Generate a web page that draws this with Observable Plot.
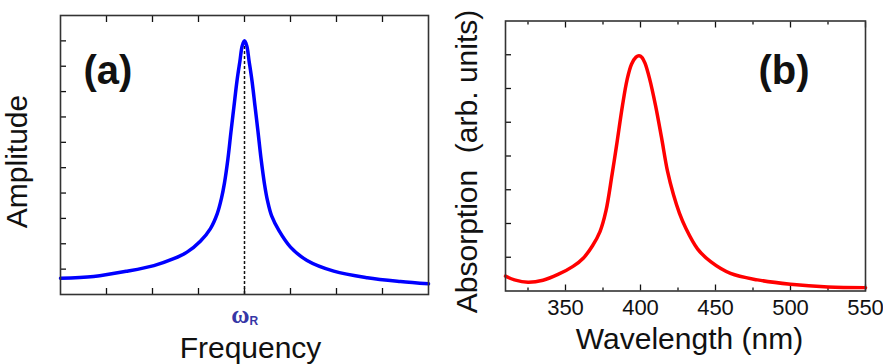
<!DOCTYPE html>
<html>
<head>
<meta charset="utf-8">
<script src="https://cdn.jsdelivr.net/npm/d3@7"></script>
<script src="https://cdn.jsdelivr.net/npm/@observablehq/plot@0.6"></script>
<style>
html, body { margin: 0; padding: 0; background: #fff; }
#wrap { position: relative; width: 883px; height: 364px; overflow: hidden; }
#wrap svg { position: absolute; top: 0; }
</style>
</head>
<body>
<div id="wrap"></div>
<script>
// ---------- Panel (a): driven oscillator amplitude ----------
const freq = [0, 0.72, 1.45, 2.03, 2.46, 2.75, 3.04, 3.26, 3.41, 3.5, 3.565, 3.64, 3.705, 3.77, 3.835, 3.9, 3.95, 4, 4.05, 4.1, 4.165, 4.23, 4.295, 4.36, 4.435, 4.5, 4.59, 4.75, 5, 5.36, 5.94, 6.67, 7.39, 8];
const amplitude = [0.64, 0.71, 0.92, 1.14, 1.41, 1.67, 2.1, 2.6, 3.2, 3.8, 4.4, 5.35, 6.4, 7.4, 8.4, 9.2, 9.8, 10.0, 9.8, 9.2, 8.4, 7.4, 6.4, 5.35, 4.35, 3.7, 3.1, 2.52, 1.87, 1.34, 0.92, 0.66, 0.51, 0.42];
const resonanceFreq = 4;
const freqTicks = [1, 2, 3, 4, 5, 6, 7];
const ampTicks = [1, 2, 3, 4, 5, 6, 7, 8, 9, 10];

// ---------- Panel (b): absorption spectrum ----------
const wavelength = [310, 316, 325, 335, 345, 355, 362, 368, 373, 377, 381, 384, 388, 391, 394, 397, 399, 401, 403, 406, 410, 414, 418, 422, 426, 430, 438, 447, 460, 478, 500, 525, 550];
const absorption = [0.44, 0.33, 0.26, 0.32, 0.49, 0.73, 0.98, 1.34, 1.76, 2.38, 3.44, 4.3, 5.5, 6.25, 6.72, 6.93, 6.97, 6.92, 6.75, 6.3, 5.5, 4.55, 3.55, 2.85, 2.3, 1.88, 1.25, 0.86, 0.52, 0.33, 0.2, 0.12, 0.1];
const wlMajorTicks = [350, 400, 450, 500, 550];
const wlMinorTicks = [325, 375, 425, 475, 525];
const absTicks = [1, 2, 3, 4, 5, 6, 7];

const FONT = "'Liberation Sans', Arial, sans-serif";
const INK = "#111";
const FRAME = "#333";

const leftData = freq.map((f, i) => ({f, a: amplitude[i]}));
const rightData = wavelength.map((w, i) => ({w, v: absorption[i]}));
const peakAmp = d3.max(amplitude);

const left = Plot.plot({
  width: 440, height: 364,
  marginTop: 15, marginBottom: 70, marginLeft: 60, marginRight: 12,
  style: {fontFamily: FONT, color: INK, background: "transparent", overflow: "visible"},
  x: {domain: [0, 8], axis: null},
  y: {domain: [0, 11], axis: null},
  marks: [
    Plot.axisX(freqTicks, {anchor: "bottom", tickSize: -6, fill: "none", label: null, strokeWidth: 1.3}),
    Plot.axisX(freqTicks, {anchor: "top", tickSize: -6, fill: "none", label: null, strokeWidth: 1.3}),
    Plot.axisY(ampTicks, {anchor: "left", tickSize: -6, fill: "none", label: null, strokeWidth: 1.3}),
    Plot.ruleX([resonanceFreq], {x: d => d, y1: 0, y2: peakAmp, stroke: INK, strokeWidth: 1.5, strokeDasharray: "3,2"}),
    Plot.line(leftData, {x: "f", y: "a", stroke: "#0000ff", strokeWidth: 3.5, curve: "catmull-rom"}),
    Plot.frame({stroke: FRAME, strokeWidth: 1.6}),
    Plot.text([resonanceFreq], {x: d => d, frameAnchor: "bottom", text: () => "ω", textAnchor: "end", lineAnchor: "bottom",
      dx: 5, dy: 28, fontSize: 25, fontFamily: "'Liberation Serif', serif", fontWeight: "bold", fill: "#3636a6"}),
    Plot.text([resonanceFreq], {x: d => d, frameAnchor: "bottom", text: () => "R", textAnchor: "start", lineAnchor: "bottom",
      dx: 5, dy: 30.5, fontSize: 12, fontWeight: "bold", fill: "#3636a6"}),
    Plot.text(["Frequency"], {text: d => d, frameAnchor: "bottom", textAnchor: "middle", lineAnchor: "bottom", dx: 6, dy: 63.5, fontSize: 30}),
    Plot.text(["Amplitude"], {text: d => d, frameAnchor: "left", textAnchor: "middle", rotate: -90, lineAnchor: "bottom", dx: -33.3, dy: 6.5, fontSize: 30}),
    Plot.text(["(a)"], {text: d => d, frameAnchor: "top-left", textAnchor: "start", lineAnchor: "bottom", dx: 23, dy: 68, fontSize: 40, fontWeight: "bold"})
  ]
});
left.style.left = "0px";

const right = Plot.plot({
  width: 443, height: 364,
  marginTop: 20.5, marginBottom: 73.5, marginLeft: 65, marginRight: 18,
  style: {fontFamily: FONT, color: INK, background: "transparent", overflow: "visible"},
  x: {domain: [310, 550], axis: null},
  y: {domain: [0, 8], axis: null},
  marks: [
    Plot.axisX(wlMajorTicks, {anchor: "bottom", tickSize: -6, fill: "none", label: null, strokeWidth: 1.3}),
    Plot.axisX(wlMinorTicks, {anchor: "bottom", tickSize: -3, fill: "none", label: null, strokeWidth: 1.3}),
    Plot.axisX(wlMajorTicks, {anchor: "top", tickSize: -6, fill: "none", label: null, strokeWidth: 1.3}),
    Plot.axisX(wlMinorTicks, {anchor: "top", tickSize: -3, fill: "none", label: null, strokeWidth: 1.3}),
    Plot.axisX(wlMajorTicks, {anchor: "bottom", tickSize: 0, tickPadding: 8, fontSize: 22, label: null, tickFormat: d => String(d)}),
    Plot.axisY(absTicks, {anchor: "left", tickSize: -6, fill: "none", label: null, strokeWidth: 1.3}),
    Plot.line(rightData, {x: "w", y: "v", stroke: "#ff0000", strokeWidth: 3.5, curve: "catmull-rom"}),
    Plot.frame({stroke: FRAME, strokeWidth: 1.6}),
    Plot.text(["Wavelength (nm)"], {text: d => d, frameAnchor: "bottom", textAnchor: "middle", lineAnchor: "bottom", dx: 4, dy: 58, fontSize: 30}),
    Plot.text(["Absorption\u00a0\u00a0(arb. units)"], {text: d => d, frameAnchor: "left", textAnchor: "middle", rotate: -90, lineAnchor: "bottom", dx: -28.3, dy: 5.5, fontSize: 30}),
    Plot.text(["(b)"], {text: d => d, frameAnchor: "top-left", textAnchor: "start", lineAnchor: "bottom", dx: 253, dy: 62.5, fontSize: 40, fontWeight: "bold"})
  ]
});
right.style.left = "440px";

const wrap = document.getElementById("wrap");
wrap.appendChild(left);
wrap.appendChild(right);
</script>
</body>
</html>
